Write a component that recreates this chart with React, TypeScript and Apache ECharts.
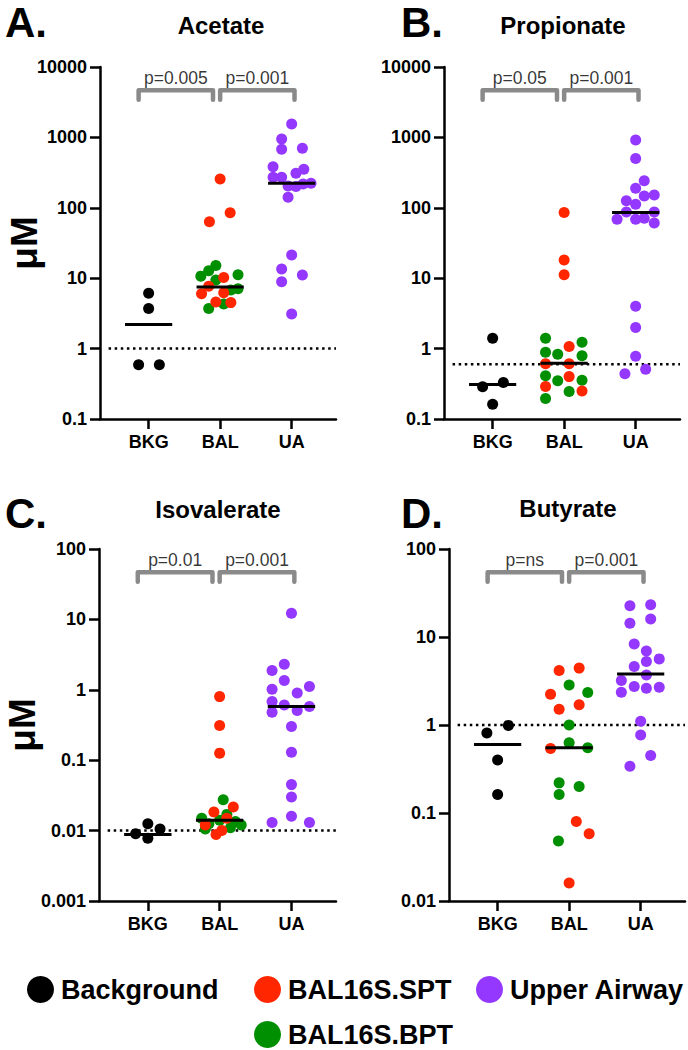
import React, { useEffect, useRef } from "react";
import * as echarts from "echarts";

const categories = ["BKG", "BAL", "UA"];
const groupNames = ["Background", "BAL16S.SPT", "BAL16S.BPT", "Upper Airway"];
const groupColors = ["#000000", "#ff2600", "#008f00", "#9437ff"];
const panelTitles = ["Acetate", "Propionate", "Isovalerate", "Butyrate"];
const panelLetters = ["A.", "B.", "C.", "D."];
const yMin = [0.1, 0.1, 0.001, 0.01];
const yMax = [10000, 10000, 100, 100];
const detectionLimits = [1, 0.6, 0.01, 1];
const pLabels = [
  ["p=0.005", "p=0.001"],
  ["p=0.05", "p=0.001"],
  ["p=0.01", "p=0.001"],
  ["p=ns", "p=0.001"],
];

// A. Acetate (µM)
const acetateBKG = [6.1, 3.7, 0.59, 0.59];
const acetateBKGJitter = [0, 0, -0.14, 0.15];
const acetateSPT = [256, 63.5, 85, 10.2, 7.7, 6.0, 6.2, 4.6, 4.5];
const acetateSPTJitter = [0, -0.15, 0.14, 0.05, -0.16, -0.26, 0.05, -0.06, 0.15];
const acetateBPT = [15.2, 12.8, 10.7, 11.2, 9.4, 6.8, 7.1, 4.3, 3.7];
const acetateBPTJitter = [-0.06, -0.16, -0.27, 0.25, -0.06, 0.15, 0.25, 0.05, -0.16];
const acetateUA = [1549, 949, 678, 700, 384, 352, 309, 271, 271, 204, 200, 218, 223, 141, 21.4, 13.5, 11.1, 8.9, 3.1];
const acetateUAJitter = [0, -0.14, -0.14, 0.15, -0.26, 0.17, 0.06, -0.26, -0.14, -0.05, 0.06, 0.16, 0.27, -0.05, 0, -0.14, 0.15, -0.14, 0];
const acetateMedians = [2.2, 7.5, 224];

// B. Propionate (µM)
const propionateBKG = [1.4, 0.288, 0.33, 0.162];
const propionateBKGJitter = [0, -0.14, 0.15, 0];
const propionateSPT = [86, 18.1, 11.2, 1.07, 0.61, 0.61, 0.4, 0.29, 0.25];
const propionateSPTJitter = [0, 0, 0, 0.07, -0.26, 0.07, 0.07, -0.26, 0.25];
const propionateBPT = [1.4, 1.23, 0.89, 0.83, 0.79, 0.41, 0.35, 0.355, 0.245, 0.195];
const propionateBPTJitter = [-0.26, 0.25, -0.26, -0.09, 0.25, -0.26, -0.09, 0.25, 0.07, -0.26];
const propionateUA = [920, 500, 243, 189, 126, 147, 152, 112, 69, 87, 69, 71, 87, 61, 4.0, 2.0, 0.78, 0.44, 0.51];
const propionateUAJitter = [0, 0, 0.12, 0, -0.13, 0.12, 0.26, 0, -0.26, -0.13, 0, 0.12, 0.26, 0.26, 0, 0, 0, -0.15, 0.14];
const propionateMedians = [0.31, 0.62, 86];

// C. Isovalerate (µM)
const isovalerateBKG = [0.0125, 0.009, 0.0105, 0.0078];
const isovalerateBKGJitter = [0, -0.17, 0.17, 0];
const isovalerateSPT = [0.8, 0.31, 0.126, 0.0184, 0.0217, 0.015, 0.012, 0.01, 0.0088];
const isovalerateSPTJitter = [0, 0, 0, -0.08, 0.19, 0.1, -0.2, 0.03, -0.05];
const isovalerateBPT = [0.0275, 0.017, 0.015, 0.0135, 0.0125, 0.014, 0.011, 0.0105, 0.012];
const isovalerateBPTJitter = [0.05, 0.1, -0.25, 0.22, -0.15, 0, 0.15, -0.2, 0.3];
const isovalerateUA = [12.2, 2.31, 1.88, 1.36, 1.02, 1.11, 0.9, 0.68, 0.61, 0.58, 0.48, 0.51, 0.3, 0.13, 0.045, 0.03, 0.016, 0.013, 0.013];
const isovalerateUAJitter = [0, -0.1, -0.27, -0.1, -0.27, 0.25, 0.08, -0.27, -0.1, 0.25, -0.27, 0.08, 0, 0, 0, 0, 0, -0.27, 0.25];
const isovalerateMedians = [0.0088, 0.014, 0.58];

// D. Butyrate (µM)
const butyrateBKG = [0.99, 0.81, 0.4, 0.162];
const butyrateBKGJitter = [0.15, -0.15, 0, 0];
const butyrateSPT = [4.16, 4.43, 2.24, 1.51, 1.7, 0.54, 0.08, 0.058, 0.016];
const butyrateSPTJitter = [-0.14, 0.14, -0.26, -0.14, 0.14, -0.26, 0.1, 0.28, 0];
const butyrateBPT = [2.84, 2.34, 1.0, 0.63, 0.55, 0.22, 0.2, 0.162, 0.048];
const butyrateBPTJitter = [0, 0.26, 0, 0, 0.26, -0.14, 0.14, -0.14, -0.15];
const butyrateUA = [22.7, 23.3, 14.3, 16.0, 8.35, 6.95, 5.64, 5.26, 4.61, 3.71, 3.2, 2.36, 2.74, 2.62, 2.69, 1.1, 0.77, 0.45, 0.34];
const butyrateUAJitter = [-0.15, 0.14, -0.15, 0.14, -0.09, 0.08, 0.26, 0.08, -0.09, 0.08, -0.27, -0.27, -0.09, 0.08, 0.26, 0, 0, 0.14, -0.15];
const butyrateMedians = [0.6, 0.55, 3.8];

const panels = [
  { bkg: acetateBKG, bkgJ: acetateBKGJitter, spt: acetateSPT, sptJ: acetateSPTJitter, bpt: acetateBPT, bptJ: acetateBPTJitter, ua: acetateUA, uaJ: acetateUAJitter, med: acetateMedians },
  { bkg: propionateBKG, bkgJ: propionateBKGJitter, spt: propionateSPT, sptJ: propionateSPTJitter, bpt: propionateBPT, bptJ: propionateBPTJitter, ua: propionateUA, uaJ: propionateUAJitter, med: propionateMedians },
  { bkg: isovalerateBKG, bkgJ: isovalerateBKGJitter, spt: isovalerateSPT, sptJ: isovalerateSPTJitter, bpt: isovalerateBPT, bptJ: isovalerateBPTJitter, ua: isovalerateUA, uaJ: isovalerateUAJitter, med: isovalerateMedians },
  { bkg: butyrateBKG, bkgJ: butyrateBKGJitter, spt: butyrateSPT, sptJ: butyrateSPTJitter, bpt: butyrateBPT, bptJ: butyrateBPTJitter, ua: butyrateUA, uaJ: butyrateUAJitter, med: butyrateMedians },
];

const FONT = "'Liberation Sans', Arial, Helvetica, sans-serif";
const X_MIN = -0.68;
const X_MAX = 2.62;

const gridBoxes = [
  { left: 100, top: 67, width: 236, height: 352 },
  { left: 444, top: 67, width: 236, height: 352 },
  { left: 99, top: 549, width: 237, height: 352 },
  { left: 449, top: 549, width: 236, height: 352 },
];

const titlePos = [
  [221, 25],
  [563, 25],
  [218, 509],
  [568, 508],
];
const letterPos = [
  [5, 22],
  [401, 22],
  [5, 513],
  [401, 513],
];
const unitPos = [
  [24, 243],
  [24, 243],
  [22, 725],
  [22, 725],
];

function fracToValue(p: number, frac: number) {
  const lmax = Math.log10(yMax[p]);
  const lmin = Math.log10(yMin[p]);
  return Math.pow(10, lmax - frac * (lmax - lmin));
}

function buildOption() {
  const grid: any[] = [];
  const xAxis: any[] = [];
  const yAxis: any[] = [];
  const series: any[] = [];
  const graphic: any[] = [];

  panels.forEach((pd, p) => {
    grid.push({ ...gridBoxes[p], containLabel: false });
    xAxis.push({
      type: "value",
      gridIndex: p,
      min: X_MIN,
      max: X_MAX,
      splitLine: { show: false },
      axisLine: { show: true, onZero: false, lineStyle: { color: "#000", width: 2.5 } },
      axisTick: { show: true, customValues: [0, 1, 2], length: 10, lineStyle: { color: "#000", width: 2.5 } },
      axisLabel: {
        customValues: [0, 1, 2],
        formatter: (v: number) => categories[Math.round(v)] ?? "",
        color: "#000",
        fontWeight: "bold",
        fontSize: 18,
        fontFamily: FONT,
        margin: 14,
      },
    });
    yAxis.push({
      type: "log",
      logBase: 10,
      gridIndex: p,
      min: yMin[p],
      max: yMax[p],
      splitLine: { show: false },
      minorTick: { show: false },
      axisLine: { show: true, onZero: false, lineStyle: { color: "#000", width: 2.5 } },
      axisTick: { show: true, length: 10, lineStyle: { color: "#000", width: 2.5 } },
      axisLabel: {
        formatter: (v: number) => String(Number(Number(v).toPrecision(6))),
        color: "#000",
        fontWeight: "bold",
        fontSize: 18,
        fontFamily: FONT,
        margin: 13,
      },
    });

    // detection limit (dotted)
    series.push({
      type: "line",
      xAxisIndex: p,
      yAxisIndex: p,
      data: [
        [X_MIN + 0.12, detectionLimits[p]],
        [X_MAX, detectionLimits[p]],
      ],
      symbol: "none",
      silent: true,
      z: 1,
      lineStyle: { color: "#000", width: 2.5, type: [2.5, 3.6] },
    });

    const groups = [
      { name: groupNames[0], vals: pd.bkg, jit: pd.bkgJ, cat: 0, color: groupColors[0] },
      { name: groupNames[2], vals: pd.bpt, jit: pd.bptJ, cat: 1, color: groupColors[2] },
      { name: groupNames[1], vals: pd.spt, jit: pd.sptJ, cat: 1, color: groupColors[1] },
      { name: groupNames[3], vals: pd.ua, jit: pd.uaJ, cat: 2, color: groupColors[3] },
    ];
    groups.forEach((g) => {
      series.push({
        type: "scatter",
        name: g.name,
        xAxisIndex: p,
        yAxisIndex: p,
        symbol: "circle",
        symbolSize: 11,
        z: 2,
        itemStyle: { color: g.color, opacity: 1 },
        data: g.vals.map((v: number, k: number) => [g.cat + g.jit[k], v]),
      });
    });

    // medians
    pd.med.forEach((m: number, c: number) => {
      series.push({
        type: "line",
        xAxisIndex: p,
        yAxisIndex: p,
        symbol: "none",
        silent: true,
        z: 3,
        lineStyle: { color: "#000", width: 3 },
        data: [
          [c - 0.33, m],
          [c + 0.33, m],
        ],
      });
    });

    // significance brackets
    const top = fracToValue(p, 0.066);
    const leg = fracToValue(p, 0.093);
    const spans = [
      [-0.14, 0.9],
      [1.0, 2.04],
    ];
    spans.forEach((s, k) => {
      series.push({
        type: "line",
        xAxisIndex: p,
        yAxisIndex: p,
        symbol: "none",
        silent: true,
        z: 3,
        lineStyle: { color: "#8a8a8a", width: 4.5, cap: "round", join: "round" },
        data: [
          [s[0], leg],
          [s[0], top],
          [s[1], top],
          [s[1], leg],
        ],
      });
      series.push({
        type: "scatter",
        xAxisIndex: p,
        yAxisIndex: p,
        symbolSize: 0,
        silent: true,
        z: 4,
        itemStyle: { color: "transparent" },
        label: {
          show: true,
          position: "top",
          distance: 3,
          formatter: pLabels[p][k],
          color: "#000",
          fontSize: 17.5,
          fontFamily: FONT,
        },
        data: [[(s[0] + s[1]) / 2, top]],
      });
    });

    graphic.push({
      type: "text",
      x: titlePos[p][0],
      y: titlePos[p][1],
      style: {
        text: panelTitles[p],
        font: `bold 24px ${FONT}`,
        fill: "#000",
        align: "center",
        verticalAlign: "middle",
      },
    });
    graphic.push({
      type: "text",
      x: letterPos[p][0],
      y: letterPos[p][1],
      style: {
        text: panelLetters[p],
        font: `bold 42px ${FONT}`,
        fill: "#000",
        align: "left",
        verticalAlign: "middle",
      },
    });
    if (p === 0 || p === 2) {
      graphic.push({
        type: "text",
        x: unitPos[p][0],
        y: unitPos[p][1],
        rotation: Math.PI / 2,
        style: {
          text: "\u03bcM",
          font: `bold 37px ${FONT}`,
          fill: "#000",
          align: "center",
          verticalAlign: "middle",
        },
      });
    }
  });

  const legendItem = (name: string, left: number, top: number) => ({
    data: [name],
    left,
    top,
    orient: "horizontal",
    icon: "circle",
    itemWidth: 27,
    itemHeight: 27,
    padding: 0,
    itemGap: 0,
    selectedMode: false,
    textStyle: { color: "#000", fontSize: 27, fontWeight: "bold", fontFamily: FONT, padding: [0, 0, 0, 2] },
  });

  return {
    animation: false,
    backgroundColor: "#fff",
    grid,
    xAxis,
    yAxis,
    series,
    graphic,
    legend: [
      legendItem(groupNames[0], 27, 976),
      legendItem(groupNames[1], 254, 976),
      legendItem(groupNames[3], 476, 976),
      legendItem(groupNames[2], 254, 1021),
    ],
  };
}

export default function App() {
  const ref = useRef<HTMLDivElement>(null);
  useEffect(() => {
    if (!ref.current) return;
    const chart = echarts.init(ref.current, undefined, { renderer: "svg" });
    chart.setOption(buildOption() as any);
    return () => chart.dispose();
  }, []);
  return (
    <div
      ref={ref}
      style={{ position: "fixed", left: 0, top: 0, width: 688, height: 1050, background: "#fff" }}
    />
  );
}
